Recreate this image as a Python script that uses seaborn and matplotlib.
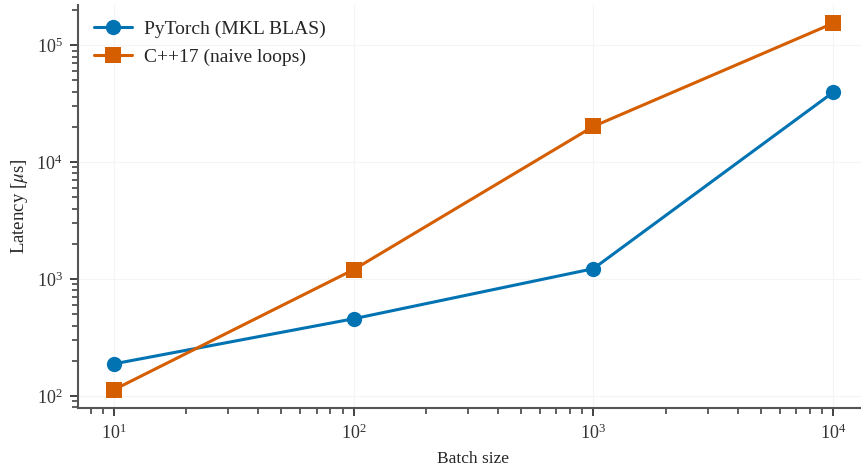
import numpy as np
import pandas as pd
import matplotlib
matplotlib.use("Agg")
import matplotlib.pyplot as plt
import seaborn as sns

batch_sizes = [10, 100, 1000, 10000]
pytorch_latency = [188, 457, 1225, 39500]
cpp_latency = [113, 1203, 20200, 154000]
series_names = ["PyTorch (MKL BLAS)", "C++17 (naive loops)"]

df = pd.DataFrame({
    "Batch size": batch_sizes * 2,
    "Latency": pytorch_latency + cpp_latency,
    "Implementation": [series_names[0]] * 4 + [series_names[1]] * 4,
})

sns.set_theme(style="ticks")
plt.rcParams["font.family"] = ["Liberation Serif", "DejaVu Serif"]
plt.rcParams["mathtext.fontset"] = "stix"
plt.rcParams["axes.edgecolor"] = "#555555"
plt.rcParams["xtick.color"] = "#333333"
plt.rcParams["ytick.color"] = "#333333"

fig = plt.figure(figsize=(8.61, 4.71), dpi=100)
ax = fig.add_axes([78 / 861, 63 / 471, (869 - 78) / 861, (408 - 5) / 471])

palette = {series_names[0]: "#0173b2", series_names[1]: "#d55e00"}
markers = {series_names[0]: "o", series_names[1]: "s"}
sns.lineplot(data=df, x="Batch size", y="Latency", hue="Implementation",
             style="Implementation", markers=markers, dashes=False,
             palette=palette, linewidth=2.2, markersize=11,
             markeredgewidth=0, ax=ax)
ax.set_xscale("log")
ax.set_yscale("log")

ax.grid(True, which="major", color="#f4f4f4", linewidth=0.8)
ax.set_axisbelow(True)
sns.despine(ax=ax)
for s in ["left", "bottom"]:
    ax.spines[s].set_linewidth(1.5)
ax.tick_params(which="major", length=6, width=1.3, labelsize=13, direction="out", pad=5)
ax.tick_params(which="minor", length=4, width=1.1, direction="out")

ax.set_xlabel("Batch size", fontsize=12.5, labelpad=6)
ax.set_ylabel(r"Latency [$\mu$s]", fontsize=13.5, labelpad=5)

leg = ax.legend(loc="upper left", frameon=False, fontsize=14,
                handlelength=2.0, handletextpad=0.6, borderaxespad=0.4)

fig.savefig("out.png", dpi=100)
